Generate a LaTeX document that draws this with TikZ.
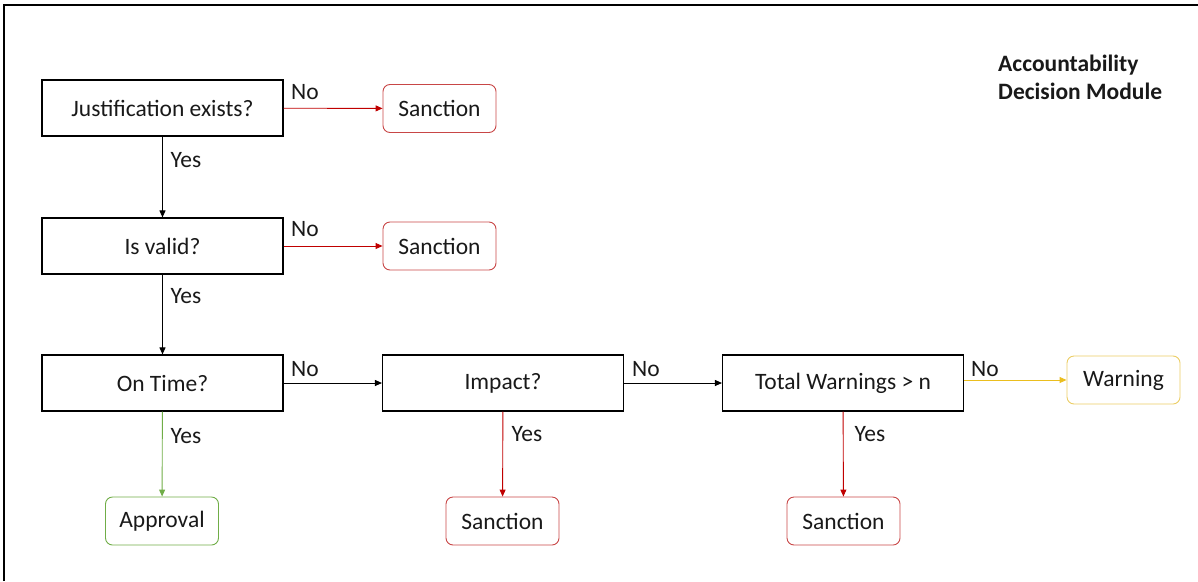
\documentclass[tikz,border=0pt]{standalone}
\usepackage{fontspec}
\setmainfont{Carlito}
\usetikzlibrary{arrows.meta}
\definecolor{sancred}{RGB}{192,0,0}
\definecolor{sancedge}{RGB}{200,70,70}
\definecolor{okgreen}{RGB}{112,173,71}
\definecolor{warnyel}{RGB}{235,190,30}
\definecolor{warnedge}{RGB}{235,205,100}
\definecolor{inktext}{RGB}{25,25,25}
\begin{document}
\begin{tikzpicture}[x=1pt,y=-1pt,
  every node/.style={font=\fontsize{23.5}{28}\selectfont,text=inktext},
  decision/.style={draw=black,line width=1.1pt,minimum width=241pt,minimum height=56pt,inner sep=0pt},
  outcome/.style={draw,rounded corners=7pt,line width=0.9pt,minimum width=113pt,minimum height=48pt,inner sep=0pt},
  sanction/.style={outcome,draw=sancedge},
  approve/.style={outcome,draw=okgreen},
  warnbox/.style={outcome,draw=warnedge},
  flow/.style={line width=0.9pt,-{Triangle[length=7pt,width=6pt]}},
  lbl/.style={inner sep=0pt}
]
\useasboundingbox (0,0) rectangle (1198,581);
% frame (top and left edges)
\draw[line width=1.2pt] (4,581) -- (4,5) -- (1198,5);

% decision boxes
\node[decision] (just) at (162.5,108) {Justification exists?};
\node[decision] (valid) at (162.5,246) {Is valid?};
\node[decision] (time) at (162.5,383) {On Time?};
\node[decision] (impact) at (503,383) {Impact?};
\node[decision] (total) at (843,383) {Total Warnings {>} n};

% outcomes
\node[sanction] (s1) at (439.5,108.5) {Sanction};
\node[sanction] (s2) at (439.5,246) {Sanction};
\node[approve] (appr) at (162,521) {Approval};
\node[sanction] (s3) at (502.5,521) {Sanction};
\node[sanction] (s4) at (843.5,521) {Sanction};
\node[warnbox] (warn) at (1123.5,380) {Warning};

% connectors
\draw[flow,draw=sancred] (just) -- (s1);
\draw[flow] (just) -- (valid);
\draw[flow,draw=sancred] (valid) -- (s2);
\draw[flow] (valid) -- (time);
\draw[flow] (time) -- (impact);
\draw[flow,draw=okgreen] (time) -- (appr);
\draw[flow] (impact) -- (total);
\draw[flow,draw=sancred] (impact) -- (s3);
\draw[flow,draw=sancred] (total) -- (s4);
\draw[flow,draw=warnyel] (total.east |- warn.west) -- (warn.west);

% branch labels
\node[lbl] (n1) at (305,92) {No};
\node[lbl] (n2) at (305,229) {No};
\node[lbl] (n3) at (305,369) {No};
\node[lbl] (n4) at (646,369) {No};
\node[lbl] (n5) at (985,369) {No};
\node[lbl] (y1) at (186,160) {Yes};
\node[lbl] (y2) at (186,296) {Yes};
\node[lbl] (y3) at (186,436) {Yes};
\node[lbl] (y4) at (527,434) {Yes};
\node[lbl] (y5) at (870,434) {Yes};

% title
\node[anchor=north west,align=left,font=\fontsize{23.5}{28}\selectfont\bfseries,inner sep=0pt] (title) at (998,55) {Accountability\\Decision Module};
\end{tikzpicture}
\end{document}
